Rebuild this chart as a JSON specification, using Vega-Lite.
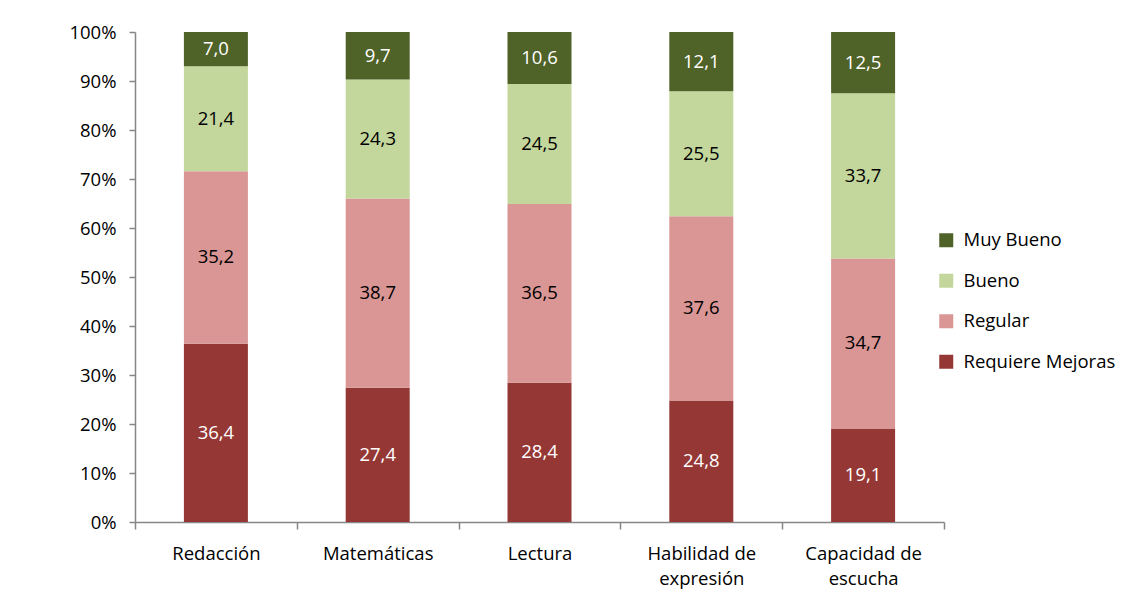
{
  "$schema": "https://vega.github.io/schema/vega-lite/v6.json",
  "width": 809,
  "height": 490,
  "autosize": {"type": "none"},
  "padding": {"left": 135, "top": 32, "right": 184, "bottom": 68},
  "background": "white",
  "config": {"view": {"stroke": null}, "font": "Open Sans"},
  "data": {"values": [
    {"area": "Redacción", "nivel": "Requiere Mejoras", "orden": 1, "valor": 36.4, "etiqueta": "36,4"},
    {"area": "Redacción", "nivel": "Regular", "orden": 2, "valor": 35.2, "etiqueta": "35,2"},
    {"area": "Redacción", "nivel": "Bueno", "orden": 3, "valor": 21.4, "etiqueta": "21,4"},
    {"area": "Redacción", "nivel": "Muy Bueno", "orden": 4, "valor": 7.0, "etiqueta": "7,0"},
    {"area": "Matemáticas", "nivel": "Requiere Mejoras", "orden": 1, "valor": 27.4, "etiqueta": "27,4"},
    {"area": "Matemáticas", "nivel": "Regular", "orden": 2, "valor": 38.7, "etiqueta": "38,7"},
    {"area": "Matemáticas", "nivel": "Bueno", "orden": 3, "valor": 24.3, "etiqueta": "24,3"},
    {"area": "Matemáticas", "nivel": "Muy Bueno", "orden": 4, "valor": 9.7, "etiqueta": "9,7"},
    {"area": "Lectura", "nivel": "Requiere Mejoras", "orden": 1, "valor": 28.4, "etiqueta": "28,4"},
    {"area": "Lectura", "nivel": "Regular", "orden": 2, "valor": 36.5, "etiqueta": "36,5"},
    {"area": "Lectura", "nivel": "Bueno", "orden": 3, "valor": 24.5, "etiqueta": "24,5"},
    {"area": "Lectura", "nivel": "Muy Bueno", "orden": 4, "valor": 10.6, "etiqueta": "10,6"},
    {"area": "Habilidad de expresión", "nivel": "Requiere Mejoras", "orden": 1, "valor": 24.8, "etiqueta": "24,8"},
    {"area": "Habilidad de expresión", "nivel": "Regular", "orden": 2, "valor": 37.6, "etiqueta": "37,6"},
    {"area": "Habilidad de expresión", "nivel": "Bueno", "orden": 3, "valor": 25.5, "etiqueta": "25,5"},
    {"area": "Habilidad de expresión", "nivel": "Muy Bueno", "orden": 4, "valor": 12.1, "etiqueta": "12,1"},
    {"area": "Capacidad de escucha", "nivel": "Requiere Mejoras", "orden": 1, "valor": 19.1, "etiqueta": "19,1"},
    {"area": "Capacidad de escucha", "nivel": "Regular", "orden": 2, "valor": 34.7, "etiqueta": "34,7"},
    {"area": "Capacidad de escucha", "nivel": "Bueno", "orden": 3, "valor": 33.7, "etiqueta": "33,7"},
    {"area": "Capacidad de escucha", "nivel": "Muy Bueno", "orden": 4, "valor": 12.5, "etiqueta": "12,5"}
  ]},
  "transform": [
    {"stack": "valor", "groupby": ["area"], "sort": [{"field": "orden", "order": "ascending"}], "as": ["y0", "y1"], "offset": "normalize"},
    {"calculate": "(datum.y0 + datum.y1) / 2", "as": "ymid"}
  ],
  "encoding": {
    "x": {
      "field": "area", "type": "nominal",
      "sort": ["Redacción", "Matemáticas", "Lectura", "Habilidad de expresión", "Capacidad de escucha"],
      "scale": {"paddingInner": 0, "paddingOuter": 0},
      "axis": {
        "title": null, "labelAngle": 0, "tickBand": "extent",
        "domainColor": "#868686", "tickColor": "#868686", "tickSize": 7, "domainWidth": 1.5, "tickWidth": 1.5,
        "labelFontSize": 18.5, "labelColor": "#000000", "labelPadding": 15, "labelLineHeight": 25,
        "labelExpr": "datum.value == 'Habilidad de expresión' ? ['Habilidad de', 'expresión'] : datum.value == 'Capacidad de escucha' ? ['Capacidad de', 'escucha'] : datum.value"
      }
    }
  },
  "layer": [
    {
      "mark": {"type": "bar", "width": 64},
      "encoding": {
        "y": {"field": "y0", "type": "quantitative", "scale": {"domain": [0, 1]},
          "axis": {"title": null, "format": ".0%", "values": [0, 0.1, 0.2, 0.3, 0.4, 0.5, 0.6, 0.7, 0.8, 0.9, 1.0], "grid": false,
            "domainColor": "#868686", "tickColor": "#868686", "tickSize": 6, "domainWidth": 1.5, "tickWidth": 1.5,
            "labelFontSize": 18.5, "labelColor": "#000000", "labelPadding": 13}},
        "y2": {"field": "y1"},
        "color": {
          "field": "nivel", "type": "nominal",
          "scale": {"domain": ["Muy Bueno", "Bueno", "Regular", "Requiere Mejoras"], "range": ["#4F6228", "#C3D69B", "#D99694", "#953735"]},
          "legend": {"title": null, "orient": "none", "legendX": 802, "legendY": 199, "symbolType": "square", "symbolSize": 196, "symbolStrokeWidth": 0,
            "labelFontSize": 18.5, "labelColor": "#000000", "rowPadding": 21.5, "labelOffset": 8}
        }
      }
    },
    {
      "mark": {"type": "text", "fontSize": 18.5, "align": "center", "baseline": "middle"},
      "encoding": {
        "y": {"field": "ymid", "type": "quantitative"},
        "text": {"field": "etiqueta"},
        "color": {
          "condition": {"test": "datum.nivel == 'Muy Bueno' || datum.nivel == 'Requiere Mejoras'", "value": "#ffffff"},
          "value": "#000000"
        }
      }
    }
  ]
}
